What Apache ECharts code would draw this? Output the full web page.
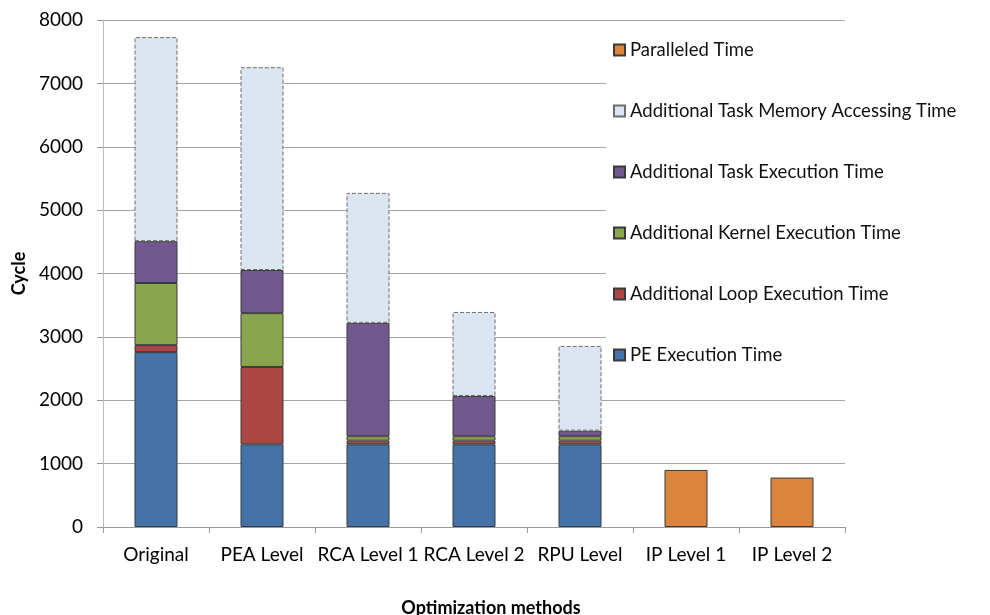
<!DOCTYPE html>
<html>
<head>
<meta charset="utf-8">
<script src="https://cdn.jsdelivr.net/npm/echarts@6/dist/echarts.min.js"></script>
<style>
  html, body { margin: 0; padding: 0; background: #fff; }
  #chart { width: 990px; height: 615px; }
</style>
</head>
<body>
<div id="chart"></div>
<script>
// categories along the x axis
var methods = ['Original', 'PEA Level', 'RCA Level 1', 'RCA Level 2', 'RPU Level', 'IP Level 1', 'IP Level 2']

// stacked segments, bottom to top (cycles)
var peExec = [2760, 1305, 1305, 1305, 1305, '-', '-']
var loopExec = [110, 1220, 57, 57, 57, '-', '-']
var kernelExec = [980, 850, 70, 70, 70, '-', '-']
var taskExec = [660, 680, 1790, 636, 88, '-', '-']
var taskMem = [3220, 3200, 2050, 1325, 1337, '-', '-']
var paralleled = ['-', '-', '-', '-', '-', 900, 780]

var yTicks = { min: 0, max: 8000, interval: 1000 }

var font = 'Lato'
var chart = echarts.init(document.getElementById('chart'))

function seg (name, data, color, dashed) {
  return {
    name: name,
    type: 'bar',
    stack: 'total',
    barWidth: 43,
    data: data,
    itemStyle: {
      color: color,
      borderColor: dashed ? '#6d6d6d' : '#3a3a3a',
      borderWidth: 1,
      borderType: dashed ? 'dashed' : 'solid'
    }
  }
}

var option = {
  backgroundColor: '#fff',
  animation: false,
  textStyle: { fontFamily: font },
  grid: { left: 103, right: 145, top: 20, bottom: 88, containLabel: false, outerBoundsMode: 'none' },
  legend: {
    orient: 'vertical',
    left: 606,
    top: 34,
    padding: [6, 20, 6, 7],
    backgroundColor: '#fff',
    icon: 'rect',
    itemWidth: 11,
    itemHeight: 11,
    itemGap: 41,
    textStyle: { fontFamily: font, fontSize: 18.5, color: '#111', lineHeight: 20 },
    data: [
      'Paralleled Time',
      'Additional Task Memory Accessing Time',
      'Additional Task Execution Time',
      'Additional Kernel Execution Time',
      'Additional Loop Execution Time',
      'PE Execution Time'
    ]
  },
  xAxis: {
    type: 'category',
    data: methods,
    name: 'Optimization methods',
    nameLocation: 'middle',
    nameGap: 72,
    nameTextStyle: { fontFamily: font, fontSize: 18, fontWeight: 'bold', color: '#000', padding: [0, 0, 0, 34] },
    axisLine: { lineStyle: { color: '#9a9a9a' } },
    axisTick: { show: true, alignWithLabel: false, length: 6, lineStyle: { color: '#9a9a9a' } },
    axisLabel: { interval: 0, fontSize: 19, color: '#000', margin: 18 }
  },
  yAxis: {
    type: 'value',
    min: yTicks.min,
    max: yTicks.max,
    interval: yTicks.interval,
    name: 'Cycle',
    nameLocation: 'middle',
    nameGap: 74,
    nameRotate: 90,
    nameTextStyle: { fontFamily: font, fontSize: 18, fontWeight: 'bold', color: '#000' },
    axisLine: { show: true, lineStyle: { color: '#bdbdbd' } },
    axisTick: { show: true, length: 6, lineStyle: { color: '#9a9a9a' } },
    axisLabel: { fontSize: 19, color: '#000', margin: 20, formatter: function (v) { return String(v) } },
    splitLine: { lineStyle: { color: '#a6a6a6' } }
  },
  series: [
    seg('PE Execution Time', peExec, '#4572a7'),
    seg('Additional Loop Execution Time', loopExec, '#aa4643'),
    seg('Additional Kernel Execution Time', kernelExec, '#89a54e'),
    seg('Additional Task Execution Time', taskExec, '#71588f'),
    seg('Additional Task Memory Accessing Time', taskMem, '#dce6f2', true),
    seg('Paralleled Time', paralleled, '#db843d')
  ]
}

chart.setOption(option)
</script>
</body>
</html>
